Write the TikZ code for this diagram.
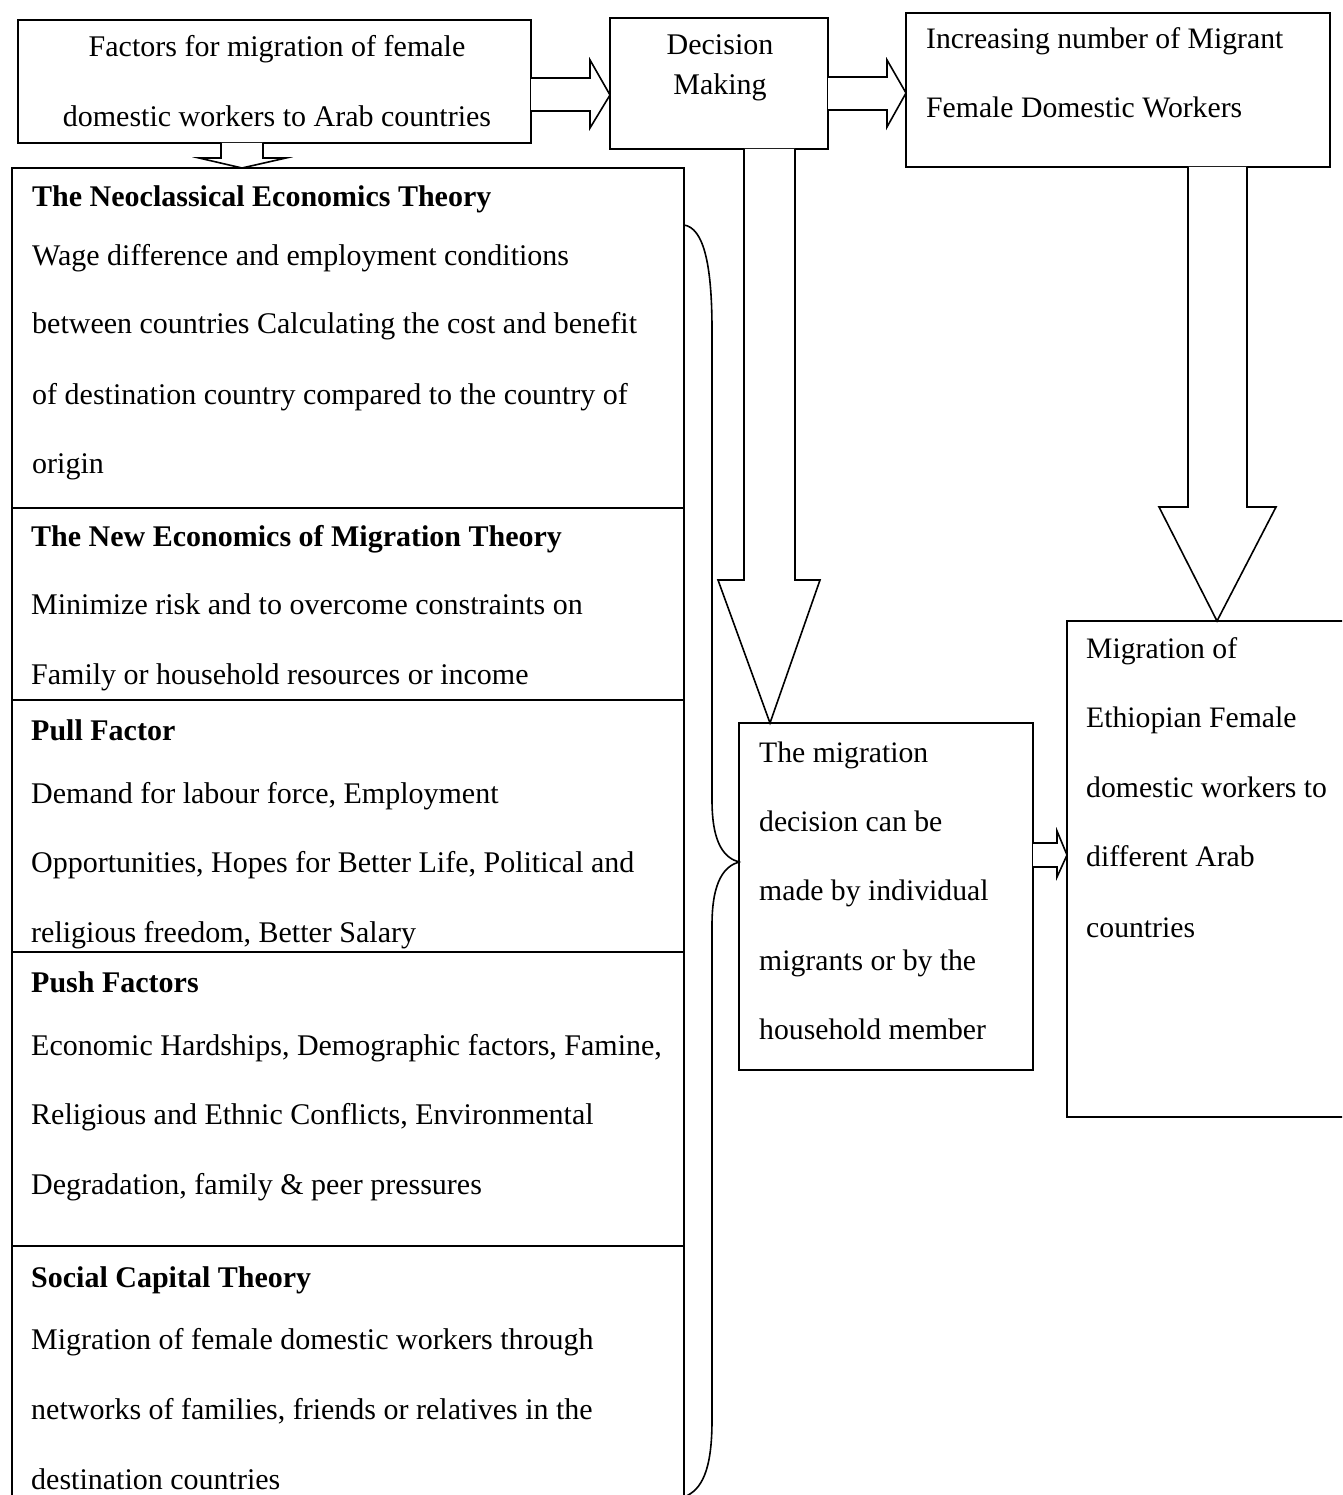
\documentclass[tikz,border=0pt]{standalone}
\usepackage{fontspec}
\setmainfont{Liberation Serif}
\begin{document}
\begin{tikzpicture}[x=1pt,y=-1pt,
  box/.style={draw, line width=1.6pt, inner sep=0pt, outer sep=0pt, anchor=north west},
  txt/.style={anchor=base west, inner sep=0pt, font=\fontsize{30}{36}\selectfont},
  rtxt/.style={anchor=base west, inner sep=0pt, font=\fontsize{29.7}{36}\selectfont},
  ctxt/.style={txt, anchor=base},
  hd/.style={txt, font=\fontsize{30}{36}\selectfont\bfseries},
  blk/.style={draw, line width=1.6pt, fill=white, line join=miter},
  brc/.style={draw, line width=1.6pt}]
\useasboundingbox (0,0) rectangle (1342,1495);
\begin{scope}
\clip (0,0) rectangle (1342,1495);
% boxes
\node[box, minimum width=513, minimum height=123] (fac) at (18,20) {};
\node[box, minimum width=218, minimum height=131] (dec) at (610,18) {};
\node[box, minimum width=424, minimum height=154] (inc) at (906,13) {};
\node[box, minimum width=672, minimum height=1340] (theo) at (12,168) {};
\node[box, minimum width=294, minimum height=347] (md) at (739,723) {};
\node[box, minimum width=290, minimum height=496] (eth) at (1067,621) {};
% dividers
\draw[line width=1.6pt] (theo.west |- 0,508) -- (theo.east |- 0,508);
\draw[line width=1.6pt] (theo.west |- 0,700) -- (theo.east |- 0,700);
\draw[line width=1.6pt] (theo.west |- 0,952) -- (theo.east |- 0,952);
\draw[line width=1.6pt] (theo.west |- 0,1246) -- (theo.east |- 0,1246);
\end{scope}
% texts
\node[ctxt] (f1) at (277,57) {Factors for migration of female};
\node[ctxt] (f2) at (277,127) {domestic workers to Arab countries};
\node[ctxt] (d1) at (720,55) {Decision};
\node[ctxt] (d2) at (720,95) {Making};
\node[rtxt] (i1) at (926,49) {Increasing number of Migrant};
\node[rtxt] (i2) at (926,118) {Female Domestic Workers};
% section 1
\node[hd] (h1) at (32,207) {The Neoclassical Economics Theory};
\node[txt] (s11) at (32,266) {Wage difference and employment conditions};
\node[txt] (s12) at (32,334) {between countries Calculating the cost and benefit};
\node[txt] (s13) at (32,404) {of destination country compared to the country of};
\node[txt] (s14) at (32,473) {origin};
% section 2
\node[hd] (h2) at (31,546) {The New Economics of Migration Theory};
\node[txt] (s21) at (31,614) {Minimize risk and to overcome constraints on};
\node[txt] (s22) at (31,684) {Family or household resources or income};
% section 3
\node[hd] (h3) at (31,740) {Pull Factor};
\node[txt] (s31) at (31,803) {Demand for labour force, Employment};
\node[txt] (s32) at (31,872) {Opportunities, Hopes for Better Life, Political and};
\node[txt] (s33) at (31,942) {religious freedom, Better Salary};
% section 4
\node[hd] (h4) at (31,992) {Push Factors};
\node[txt] (s41) at (31,1055) {Economic Hardships, Demographic factors, Famine,};
\node[txt] (s42) at (31,1124) {Religious and Ethnic Conflicts, Environmental};
\node[txt] (s43) at (31,1194) {Degradation, family \& peer pressures};
% section 5
\node[hd] (h5) at (31,1287) {Social Capital Theory};
\node[txt] (s51) at (31,1349) {Migration of female domestic workers through};
\node[txt] (s52) at (31,1419) {networks of families, friends or relatives in the};
\node[txt] (s53) at (31,1489) {destination countries};
% migration decision
\node[rtxt] (m1) at (759,762) {The migration};
\node[rtxt] (m2) at (759,831) {decision can be};
\node[rtxt] (m3) at (759,900) {made by individual};
\node[rtxt] (m4) at (759,970) {migrants or by the};
\node[rtxt] (m5) at (759,1039) {household member};
% ethiopian
\node[rtxt] (e1) at (1086,658) {Migration of};
\node[rtxt] (e2) at (1086,727) {Ethiopian Female};
\node[rtxt] (e3) at (1086,797) {domestic workers to};
\node[rtxt] (e4) at (1086,866) {different Arab};
\node[rtxt] (e5) at (1086,937) {countries};
% block arrows
\draw[blk] (fac.east |- 0,78) -- (590,78) -- (590,60) -- (dec.west |- 0,95) -- (590,128) -- (590,111) -- (fac.east |- 0,111);
\draw[blk] (dec.east |- 0,77) -- (887,77) -- (887,60) -- (inc.west |- 0,93) -- (887,127) -- (887,110) -- (dec.east |- 0,110);
\draw[blk] (221,0 |- fac.south) -- (221,158) -- (199,158) -- (242,0 |- theo.north) -- (286,158) -- (263,158) -- (263,0 |- fac.south);
\draw[blk] (744,0 |- dec.south) -- (744,580) -- (718,580) -- (770,0 |- md.north) -- (820,580) -- (795,580) -- (795,0 |- dec.south);
\draw[blk] (1188,0 |- inc.south) -- (1188,507) -- (1159,507) -- (1217,0 |- eth.north) -- (1276,507) -- (1247,507) -- (1247,0 |- inc.south);
\draw[blk] (md.east |- 0,843) -- (1057,843) -- (1057,831) -- (eth.west |- 0,855) -- (1057,877) -- (1057,867) -- (md.east |- 0,867);
% brace
\draw[brc] (theo.east |- 0,225) .. controls (703,228) and (712,262) .. (712,330) -- (712,800) .. controls (712,845) and (725,858) .. (md.west |- 0,862) .. controls (725,866) and (712,880) .. (712,925) -- (712,1420) .. controls (712,1470) and (702,1490) .. (theo.east |- 0,1497);
\end{tikzpicture}
\end{document}
